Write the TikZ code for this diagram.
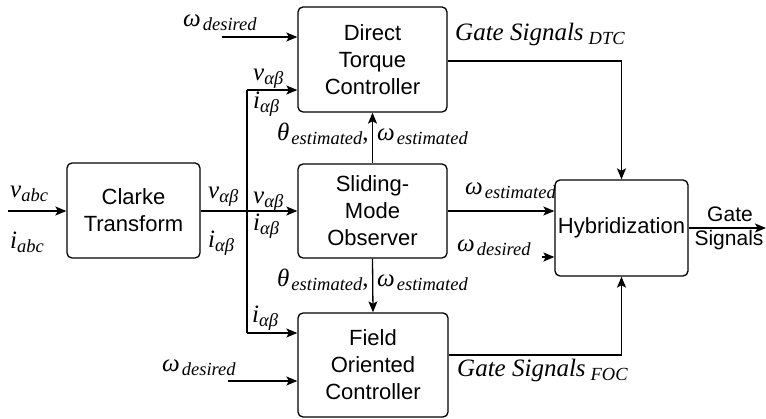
\documentclass[tikz,border=0pt]{standalone}
\usepackage{fontspec}
\setmainfont{Liberation Sans}
\newfontfamily\tms{Liberation Serif}
\usetikzlibrary{arrows.meta}
\newcommand{\lbl}[3][2pt]{{\tms\itshape\fontsize{25}{25}\selectfont #2}\kern#1\raisebox{-4pt}{\tms\itshape\fontsize{18.5}{18.5}\selectfont #3}}
\begin{document}
\begin{tikzpicture}[x=1pt,y=-1pt,
  blk/.style={draw, line width=1.3pt, rounded corners=5pt, align=center, inner sep=0pt,
    font=\fontsize{22}{27}\selectfont},
  conn/.style={line width=1.3pt, -{Stealth[length=11pt,width=9pt,inset=2.5pt]}},
  wire/.style={line width=1.3pt},
  lab/.style={anchor=base west, inner sep=0pt},
  plain/.style={anchor=base, inner sep=0pt, font=\fontsize{21}{21}\selectfont}]
\useasboundingbox (0,0) rectangle (766,419);
\node[blk, minimum width=149pt, minimum height=105pt] (dtc) at (372.5,59.5) {Direct\\Torque\\Controller};
\node[blk, minimum width=133pt, minimum height=95pt] (clarke) at (133.5,210.5) {Clarke\\Transform};
\node[blk, minimum width=149pt, minimum height=94pt] (smo) at (372.5,211) {Sliding-\\Mode\\Observer};
\node[blk, minimum width=133pt, minimum height=96pt] (hyb) at (621.5,228) {Hybridization};
\node[blk, minimum width=150pt, minimum height=104pt] (foc) at (373,365) {Field\\Oriented\\Controller};
% coordinates
\coordinate (in) at (8,211);
\coordinate (jm) at (247,211);
\coordinate (jt) at (247,90);
\coordinate (jb) at (247,333);
\coordinate (wd1) at (222,37);
\coordinate (wd2) at (542,257);
\coordinate (wd3) at (228,381);
\coordinate (dto) at (447,61);
\coordinate (fco) at (448,355);
\coordinate (out) at (766,228);
% connectors
\draw[conn] (in) -- (in -| clarke.west);
\draw[conn] (clarke.east |- jm) -- (jm -| smo.west);
\draw[wire] (jt) -- (jb);
\draw[conn] (jt) -- (jt -| dtc.west);
\draw[conn] (jb) -- (jb -| foc.west);
\draw[conn] (wd1) -- (wd1 -| dtc.west);
\draw[conn] (smo.north) -- (dtc.south);
\draw[conn] (smo.south) -- (foc.north);
\draw[conn] (dto -| dtc.east) -- (dto -| hyb.north) -- (hyb.north);
\draw[conn] (smo.east) -- (smo.east -| hyb.west);
\draw[conn] (wd2) -- (wd2 -| hyb.west);
\draw[conn] (fco -| foc.east) -- (fco -| hyb.south) -- (hyb.south);
\draw[conn] (wd3) -- (wd3 -| foc.west);
\draw[conn] (hyb.east) -- (out);
% labels
\node[lab] (l1) at (183,27) {\lbl{ω}{desired}};
\node[lab] (l2) at (253,81) {\lbl[0pt]{v}{αβ}};
\node[lab] (l3) at (253,109) {\lbl[0pt]{i}{αβ}};
\node[lab] (l4) at (277,141) {\lbl{θ}{estimated}{\tms\fontsize{25}{25}\selectfont,}};
\node[lab] (l5) at (377,141) {\lbl{ω}{estimated}};
\node[lab] (l6) at (455,41) {\lbl[5pt]{Gate Signals}{DTC}};
\node[lab] (l7) at (10,198) {\lbl[0pt]{v}{abc}};
\node[lab] (l8) at (10,249) {\lbl[0pt]{i}{abc}};
\node[lab] (l9) at (208,199) {\lbl[0pt]{v}{αβ}};
\node[lab] (l10) at (208,248) {\lbl[0pt]{i}{αβ}};
\node[lab] (l11) at (253,204) {\lbl[0pt]{v}{αβ}};
\node[lab] (l12) at (253,231) {\lbl[0pt]{i}{αβ}};
\node[lab] (l13) at (465,195) {\lbl{ω}{estimated}};
\node[lab] (l14) at (457,252) {\lbl{ω}{desired}};
\node[lab] (l15) at (277,287) {\lbl{θ}{estimated}{\tms\fontsize{25}{25}\selectfont,}};
\node[lab] (l16) at (377,287) {\lbl{ω}{estimated}};
\node[lab] (l17) at (252,323) {\lbl[0pt]{i}{αβ}};
\node[lab] (l18) at (162,372) {\lbl{ω}{desired}};
\node[lab] (l19) at (457,377) {\lbl[5pt]{Gate Signals}{FOC}};
\node[plain] (g1) at (730,222) {Gate};
\node[plain] (g2) at (729,246) {Signals};
\end{tikzpicture}
\end{document}
